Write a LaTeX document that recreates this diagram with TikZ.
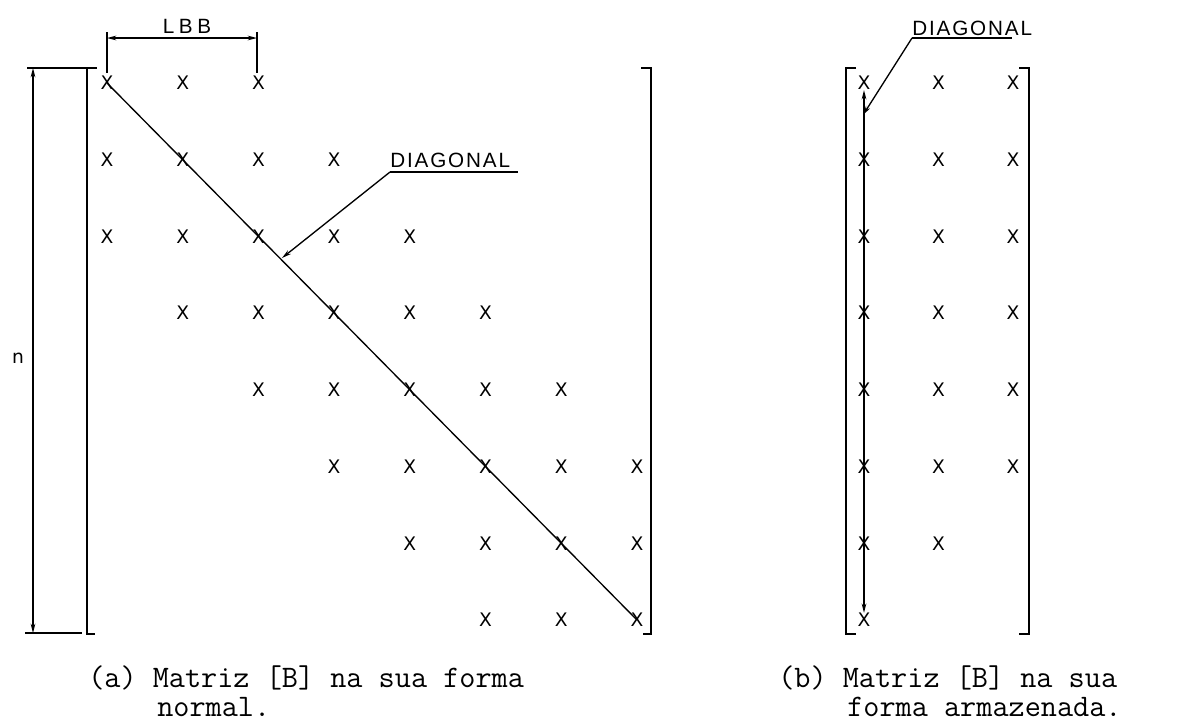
\documentclass[tikz,border=0pt]{standalone}
\usepackage{fontspec}
\usetikzlibrary{arrows.meta}
\newfontfamily\lett{Liberation Sans}
\newfontfamily\xfont{DejaVu Sans}
\newfontfamily\lettsp[LetterSpace=9]{Liberation Sans}
\newfontfamily\lettwide[LetterSpace=22]{Liberation Sans}
\begin{document}
\begin{tikzpicture}[x=0.75pt,y=-0.75pt,
  xm/.style={font=\xfont\fontsize{14}{14}\selectfont, inner sep=0pt},
  lab/.style={font=\lettsp\fontsize{15.5}{15.5}\selectfont, inner sep=0pt},
  captext/.style={font=\ttfamily\fontsize{23.5}{25}\selectfont, inner sep=0pt, anchor=base west},
  brk/.style={line width=1.6pt},
  dimline/.style={line width=1pt},
  diagline/.style={line width=1pt},
  onetip/.style={-{Stealth[length=7pt,width=3.5pt]}},
  bothtips/.style={{Stealth[length=7pt,width=3.5pt]}-{Stealth[length=7pt,width=3.5pt]}}]
\useasboundingbox (0,0) rectangle (1180,726);

% ---- left matrix (a)
\foreach \r/\a/\b in {1/1/3,2/1/4,3/1/5,4/2/6,5/3/7,6/4/8,7/5/8,8/6/8}
  \foreach \c in {\a,...,\b}
    \node[xm] (c\r\c) at ({107+75.7*(\c-1)},{83+76.7*(\r-1)}) {X};

\draw[brk] (95,68) -- (87,68) -- (87,634) -- (95,634);
\draw[brk] (641,68) -- (651,68) -- (651,634) -- (643,634);

\draw[diagline] (c11.center) -- (c88.center);

% n dimension
\coordinate (nt) at (33,68);
\coordinate (nb) at (33,633);
\draw[dimline] (27,68) -- (97,68);
\draw[dimline] (25,633) -- (82,633);
\draw[dimline,bothtips] (nt) -- (nb);
\node[font=\xfont\fontsize{14}{14}\selectfont, inner sep=0pt] (n) at (18,358) {n};

% LBB dimension
\coordinate (la) at (107,38);
\coordinate (lb) at (257,38);
\draw[dimline] (107,32) -- (107,73);
\draw[dimline] (257,32) -- (257,73);
\draw[dimline,bothtips] (la) -- (lb);
\node[font=\lettwide\fontsize{15.5}{15.5}\selectfont, inner sep=0pt, anchor=base] (lbb) at (187,33) {LBB};

% DIAGONAL label (a)
\node[lab, anchor=base west] (dla) at (390,167) {DIAGONAL};
\coordinate (da) at (390,172);
\coordinate (dat) at (282,258);
\draw[dimline] (da) -- (518,172);
\draw[dimline,onetip] (da) -- (dat);

% ---- right matrix (b)
\foreach \r/\b in {1/3,2/3,3/3,4/3,5/3,6/3,7/2,8/1}
  \foreach \c in {1,...,\b}
    \node[xm] (r\r\c) at ({864+74.5*(\c-1)},{83+76.7*(\r-1)}) {X};

\draw[brk] (856,68) -- (846,68) -- (846,634) -- (856,634);
\draw[brk] (1019,68) -- (1029,68) -- (1029,634) -- (1019,634);

\draw[diagline,bothtips] (r11) -- (r81);

\node[lab, anchor=base west] (dlb) at (912,35) {DIAGONAL};
\coordinate (db) at (912,38);
\coordinate (dbt) at (863,115);
\draw[dimline] (db) -- (1012,38);
\draw[dimline,onetip] (db) -- (dbt);

% ---- captions
\node[captext] (capa1) at (88,687) {(a) Matriz [B] na sua forma};
\node[captext] (capa2) at (157,716) {normal.};
\node[captext] (capb1) at (778,687) {(b) Matriz [B] na sua};
\node[captext] (capb2) at (847,716) {forma armazenada.};
\end{tikzpicture}
\end{document}
